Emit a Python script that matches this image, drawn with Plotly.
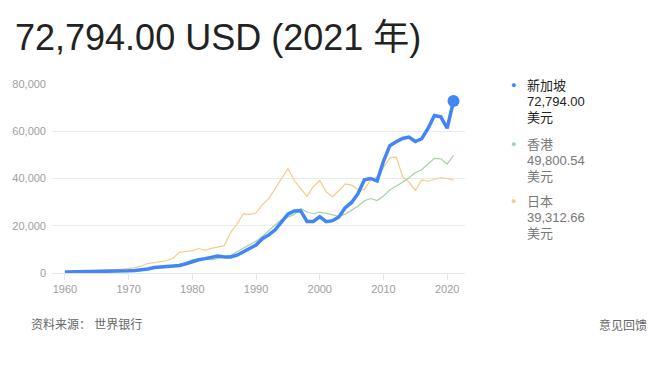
import plotly.graph_objects as go

years = list(range(1960, 2022))

singapore = [428, 449, 472, 511, 485, 516, 566, 626, 708, 810,
             926, 1071, 1264, 1685, 2341, 2490, 2770, 2846, 3194, 3901,
             4928, 5596, 6078, 6633, 7228, 6755, 6800, 7539, 9016, 10394,
             11862, 14502, 16136, 18290, 21553, 24915, 26233, 26376, 21829, 21796,
             23853, 21700, 22160, 23730, 27608, 29870, 33580, 39433, 40008, 38927,
             47237, 53891, 55546, 56967, 57563, 55647, 56828, 61176, 66679, 66070,
             61274, 72794.00]

hongkong = [429, 442, 490, 556, 621, 683, 709, 722, 720, 826,
            925, 1053, 1306, 1728, 1998, 2166, 2685, 3174, 3557, 4239,
            5700, 5991, 6134, 5595, 6208, 6543, 7436, 8997, 10556, 12097,
            13486, 15466, 17976, 20396, 22503, 23497, 24818, 27330, 25809, 25092,
            25757, 25230, 24666, 23977, 24928, 26650, 28224, 30594, 31516, 30697,
            32550, 35142, 36731, 38404, 40315, 42432, 43731, 46166, 48543, 48356,
            46109, 49800.54]

japan = [479, 564, 634, 717, 835, 919, 1059, 1229, 1450, 1669,
         2038, 2272, 2967, 3997, 4354, 4674, 5197, 6335, 8821, 9105,
         9463, 10361, 9578, 10425, 10984, 11585, 17112, 20745, 25051, 24813,
         25371, 28925, 31465, 35766, 39934, 44198, 39150, 35635, 32424, 36610,
         39169, 34406, 32289, 34808, 37689, 37218, 35434, 35275, 39339, 40855,
         44508, 48760, 49145, 40898, 38475, 34961, 39375, 38834, 39751, 40416,
         39986, 39312.66]

names = ["新加坡", "香港", "日本"]
latest = ["72,794.00", "49,800.54", "39,312.66"]
unit = "美元"
title_text = "72,794.00 USD (2021 年)"
x_ticks = [1960, 1970, 1980, 1990, 2000, 2010, 2020]
y_ticks = [0, 20000, 40000, 60000, 80000]
y_labels = ["0", "20,000", "40,000", "60,000", "80,000"]

BLUE = "#4285F4"
GREEN = "#A3D3A0"
ORANGE = "#F7CA88"

W, H = 668, 365
L, R, T, B = 50, 465, 84, 273


def px(x):
    return (x - L) / (R - L)


def py(y):
    return (B - y) / (B - T)


FONT = "Arial, 'Liberation Sans', 'Noto Sans CJK SC', sans-serif"

fig = go.Figure()
fig.add_trace(go.Scatter(x=years, y=japan, mode="lines",
                         line=dict(color=ORANGE, width=1.2), hoverinfo="skip"))
fig.add_trace(go.Scatter(x=years, y=hongkong, mode="lines",
                         line=dict(color=GREEN, width=1.2), hoverinfo="skip"))
fig.add_trace(go.Scatter(x=years, y=singapore, mode="lines",
                         line=dict(color=BLUE, width=3.5), hoverinfo="skip"))
fig.add_trace(go.Scatter(x=[years[-1]], y=[singapore[-1]], mode="markers",
                         marker=dict(color=BLUE, size=12), hoverinfo="skip",
                         cliponaxis=False))

annotations = []
annotations.append(dict(text=title_text, xref="paper", yref="paper",
                        x=px(11), y=py(38), xanchor="left", yanchor="middle",
                        showarrow=False, font=dict(size=36, color="#222222", family=FONT)))

dot_colors = [BLUE, GREEN, ORANGE]
text_colors = ["#222222", "#777777", "#777777"]
group_top = [85, 144, 201]
for i in range(3):
    y0 = group_top[i]
    annotations.append(dict(text="●", xref="paper", yref="paper",
                            x=px(514), y=py(y0), xanchor="center", yanchor="middle",
                            showarrow=False, font=dict(size=9, color=dot_colors[i], family=FONT)))
    for j, t in enumerate([names[i], latest[i], unit]):
        annotations.append(dict(text=t, xref="paper", yref="paper",
                                x=px(525), y=py(y0 + 16 * j), xanchor="left", yanchor="middle",
                                showarrow=False,
                                font=dict(size=13, color=text_colors[i], family=FONT)))

annotations.append(dict(text="资料来源： 世界银行", xref="paper", yref="paper",
                        x=px(27), y=py(325), xanchor="left", yanchor="middle",
                        showarrow=False, font=dict(size=12, color="#666666", family=FONT)))
annotations.append(dict(text="意见回馈", xref="paper", yref="paper",
                        x=px(650), y=py(325), xanchor="right", yanchor="middle",
                        showarrow=False, font=dict(size=12, color="#666666", family=FONT)))

fig.update_layout(
    width=W, height=H,
    margin=dict(l=L, r=W - R, t=T, b=H - B, pad=0),
    paper_bgcolor="white", plot_bgcolor="white",
    showlegend=False,
    font=dict(family=FONT),
    annotations=annotations,
    xaxis=dict(range=[1957.97, 2022.8], tickvals=x_ticks,
               ticks="outside", ticklen=6, tickcolor="#e6e6e6", tickwidth=1,
               showgrid=False, zeroline=False, showline=False,
               tickfont=dict(size=11, color="#9e9e9e", family=FONT), fixedrange=True),
    yaxis=dict(range=[0, 80000], tickvals=y_ticks, ticktext=y_labels,
               showgrid=True, gridcolor="#ebebeb", gridwidth=1,
               zeroline=True, zerolinecolor="#e6e6e6", zerolinewidth=1,
               showline=False, ticks="", ticklabelstandoff=5,
               tickfont=dict(size=11, color="#9e9e9e", family=FONT), fixedrange=True),
)

fig.write_html("out.html", config={"displayModeBar": False})
